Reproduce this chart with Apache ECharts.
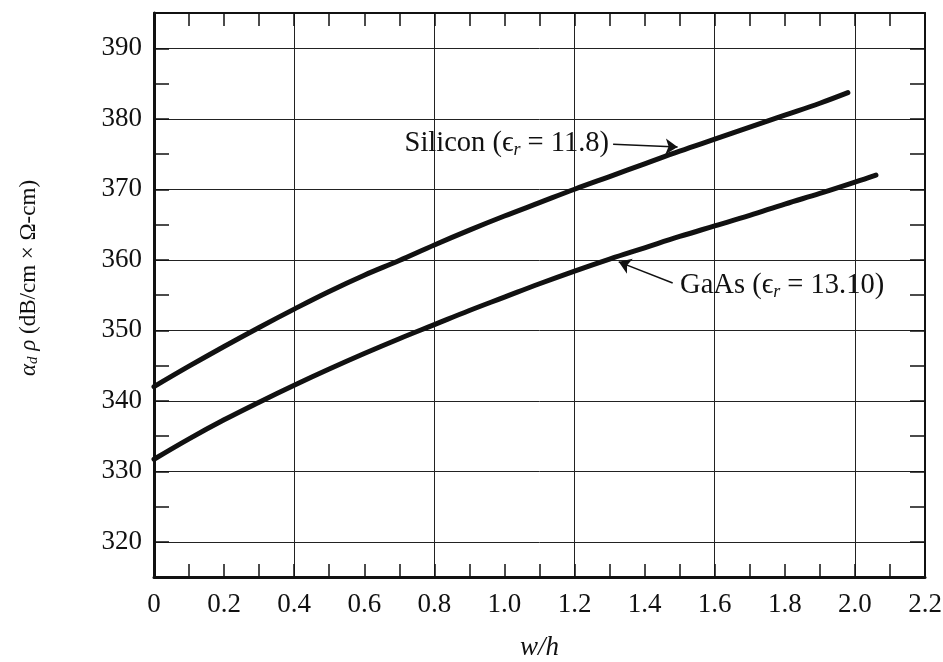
<!DOCTYPE html>
<html>
<head>
<meta charset="utf-8">
<script src="https://cdn.jsdelivr.net/npm/echarts@6/dist/echarts.min.js"></script>
<style>
html,body{margin:0;padding:0;background:#fff;}
#c{width:943px;height:662px;}
</style>
</head>
<body>
<div id="c"></div>
<script>
// ---- data ----
const siliconX = [0, 0.1, 0.2, 0.3, 0.4, 0.5, 0.6, 0.7, 0.8, 0.9, 1.0, 1.1, 1.2, 1.3, 1.4, 1.5, 1.6, 1.7, 1.8, 1.9, 1.98];
const siliconY = [342.0, 344.9, 347.7, 350.4, 353.0, 355.5, 357.8, 359.9, 362.1, 364.2, 366.2, 368.1, 370.0, 371.8, 373.6, 375.4, 377.1, 378.8, 380.5, 382.2, 383.7];
const gaasX = [0, 0.1, 0.2, 0.3, 0.4, 0.5, 0.6, 0.7, 0.8, 0.9, 1.0, 1.1, 1.2, 1.3, 1.4, 1.5, 1.6, 1.7, 1.8, 1.9, 2.0, 2.06];
const gaasY = [331.7, 334.6, 337.3, 339.8, 342.2, 344.5, 346.7, 348.8, 350.8, 352.8, 354.7, 356.6, 358.4, 360.1, 361.7, 363.3, 364.8, 366.3, 367.9, 369.4, 371.0, 372.0];
const siliconArrow = [[1.31, 376.4], [1.494, 376.0]];
const gaasArrow = [[1.48, 356.7], [1.326, 359.7]];
const siliconLabel = 'Silicon ({e|ϵ}{r|r} = 11.8)';
const gaasLabel = 'GaAs ({e|ϵ}{r|r} = 13.10)';
const xRange = [0, 2.2];
const yRange = [315, 395];

const serif = "'Liberation Serif', 'DejaVu Serif', serif";
const ink = '#111';

const annRich = {
  e: {fontFamily: serif, fontSize: 28.5, color: ink},
  r: {fontFamily: serif, fontStyle: 'italic', fontSize: 18, color: ink, padding: [12, 0, 0, 0]}
};

const chart = echarts.init(document.getElementById('c'), null, {renderer: 'canvas'});
const option = {
  animation: false,
  backgroundColor: '#fff',
  grid: {left: 154, right: 18, top: 13, bottom: 85, containLabel: false, outerBoundsMode: 'none'},
  xAxis: [
    {
      type: 'value', position: 'bottom', min: xRange[0], max: xRange[1], interval: 0.2,
      name: 'w/h', nameLocation: 'middle', nameGap: 57,
      nameTextStyle: {fontFamily: serif, fontStyle: 'italic', fontSize: 27, color: ink},
      axisLine: {show: true, onZero: false, lineStyle: {color: ink, width: 3}},
      axisTick: {show: true, inside: true, length: 13, lineStyle: {color: ink, width: 1.5}},
      minorTick: {show: true, splitNumber: 2, length: 13, lineStyle: {color: ink, width: 1.5}},
      splitLine: {show: false},
      axisLabel: {fontFamily: serif, fontSize: 27, color: ink, margin: 14,
        formatter: v => (Math.abs(v) < 1e-9 ? '0' : v.toFixed(1))}
    },
    {
      type: 'value', position: 'top', min: xRange[0], max: xRange[1], interval: 0.2,
      axisLine: {show: true, onZero: false, lineStyle: {color: ink, width: 2}},
      axisTick: {show: true, inside: true, length: 13, lineStyle: {color: ink, width: 1.5}},
      minorTick: {show: true, splitNumber: 2, length: 13, lineStyle: {color: ink, width: 1.5}},
      splitLine: {show: false},
      axisLabel: {show: false}
    },
    {
      type: 'value', position: 'bottom', min: xRange[0], max: xRange[1], interval: 0.4,
      axisLine: {show: false, onZero: false}, axisTick: {show: false}, axisLabel: {show: false},
      splitLine: {show: true, lineStyle: {color: '#222', width: 1}}
    }
  ],
  yAxis: [
    {
      type: 'value', position: 'left', min: yRange[0], max: yRange[1], interval: 5,
      name: '{g|α}{s|d}{g| ρ} (dB/cm × Ω-cm)', nameLocation: 'middle', nameGap: 113, nameRotate: 90,
      nameTextStyle: {fontFamily: serif, fontSize: 23, color: ink, padding: [0, 0, 0, 34],
        rich: {
          g: {fontFamily: serif, fontStyle: 'italic', fontSize: 23, color: ink},
          s: {fontFamily: serif, fontStyle: 'italic', fontSize: 15, color: ink, padding: [10, 0, 0, 0]}
        }},
      axisLine: {show: true, onZero: false, lineStyle: {color: ink, width: 3}},
      axisTick: {show: true, inside: true, length: 15, lineStyle: {color: ink, width: 1.5}},
      splitLine: {show: false},
      axisLabel: {fontFamily: serif, fontSize: 27, color: ink, margin: 12,
        formatter: v => (Math.round(v) % 10 === 0 ? String(Math.round(v)) : '')}
    },
    {
      type: 'value', position: 'right', min: yRange[0], max: yRange[1], interval: 5,
      axisLine: {show: true, onZero: false, lineStyle: {color: ink, width: 2}},
      axisTick: {show: true, inside: true, length: 15, lineStyle: {color: ink, width: 1.5}},
      splitLine: {show: false},
      axisLabel: {show: false}
    },
    {
      type: 'value', position: 'left', min: yRange[0], max: yRange[1], splitNumber: 8,
      axisLine: {show: false, onZero: false}, axisTick: {show: false}, axisLabel: {show: false},
      splitLine: {show: true, lineStyle: {color: '#222', width: 1}}
    }
  ],
  series: [
    {
      name: 'Silicon', type: 'line', xAxisIndex: 0, yAxisIndex: 0,
      data: siliconX.map((x, i) => [x, siliconY[i]]),
      showSymbol: false, smooth: 0.4, z: 5,
      lineStyle: {color: ink, width: 5, cap: 'round'},
      markLine: {
        silent: true, symbol: ['none', 'arrow'], symbolSize: 12,
        lineStyle: {color: ink, width: 1.5, type: 'solid'},
        label: {show: true, position: 'start', distance: 4, formatter: siliconLabel,
          fontFamily: serif, fontSize: 28.5, color: ink, rich: annRich},
        data: [[{coord: siliconArrow[0]}, {coord: siliconArrow[1]}]]
      }
    },
    {
      name: 'GaAs', type: 'line', xAxisIndex: 0, yAxisIndex: 0,
      data: gaasX.map((x, i) => [x, gaasY[i]]),
      showSymbol: false, smooth: 0.4, z: 5,
      lineStyle: {color: ink, width: 5, cap: 'round'},
      markLine: {
        silent: true, symbol: ['none', 'arrow'], symbolSize: 12,
        lineStyle: {color: ink, width: 1.5, type: 'solid'},
        label: {show: true, position: 'start', distance: 8, formatter: gaasLabel,
          fontFamily: serif, fontSize: 28.5, color: ink, rich: annRich},
        data: [[{coord: gaasArrow[0]}, {coord: gaasArrow[1]}]]
      }
    }
  ]
};
chart.setOption(option);
</script>
</body>
</html>
